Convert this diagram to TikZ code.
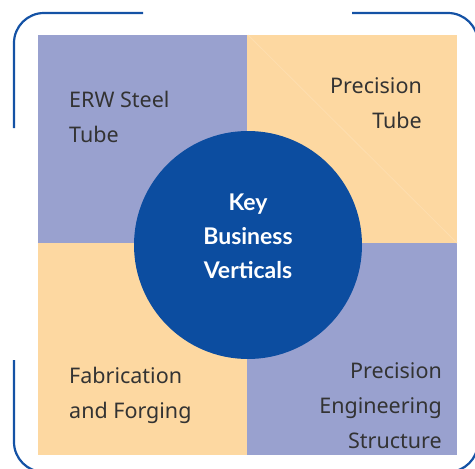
\documentclass[tikz,border=0pt]{standalone}
\usepackage{fontspec}
\setmainfont{Noto Sans}
\newfontfamily\ctrfont{Lato}
\definecolor{lav}{HTML}{99A1CF}
\definecolor{peach}{HTML}{FDD8A1}
\definecolor{cblue}{HTML}{0C4DA0}
\definecolor{bblue}{HTML}{1452A5}
\definecolor{txt}{HTML}{333333}
\tikzset{
  lbl/.style={inner sep=0pt, text=txt, font=\fontsize{21.5}{35}\selectfont},
  ctr/.style={inner sep=0pt, text=white, align=center, font=\ctrfont\bfseries\fontsize{23}{34}\selectfont},
  frame/.style={draw=bblue, line width=2.2pt, rounded corners=30pt}
}
\begin{document}
\begin{tikzpicture}[x=1pt,y=-1pt]
\useasboundingbox (0,0) rectangle (475,469);
\begin{scope}
\clip (0,0) rectangle (475,469);
% frame pieces (rounded rectangle 14..478 x 13..472, r=30)
\draw[frame] (143,13) -- (14,13) -- (14,128);
\draw[frame] (352,13) -- (478,13) -- (478,130);
\draw[frame] (14,360) -- (14,472) -- (140,472);
\draw[frame] (478,360) -- (478,472) -- (352,472);
\end{scope}
% panels
\fill[lav] (38,35) rectangle (247,243);
\fill[peach] (247,35) rectangle (457,243);
\fill[peach] (38,243) rectangle (247,455);
\fill[lav] (247,243) rectangle (457,455);
\draw[peach!85!white, line width=0.8pt] (248,35) -- (457,243);
% circle
\node[circle, fill=cblue, minimum size=228pt, inner sep=0pt] (c) at (248,245) {};
\node[ctr, anchor=base] (ct) at (248,278) {Key\\Business\\Verticals};
% labels
\node[lbl, anchor=base west, align=left] (erw) at (69,142) {ERW Steel\\Tube};
\node[lbl, anchor=base east, align=right] (pt) at (422,128) {Precision\\Tube};
\node[lbl, anchor=base west, align=left] (fab) at (69,418) {Fabrication\\and Forging};
\node[lbl, anchor=base east, align=right] (pes) at (442,448) {Precision\\Engineering\\Structure};
\end{tikzpicture}
\end{document}
